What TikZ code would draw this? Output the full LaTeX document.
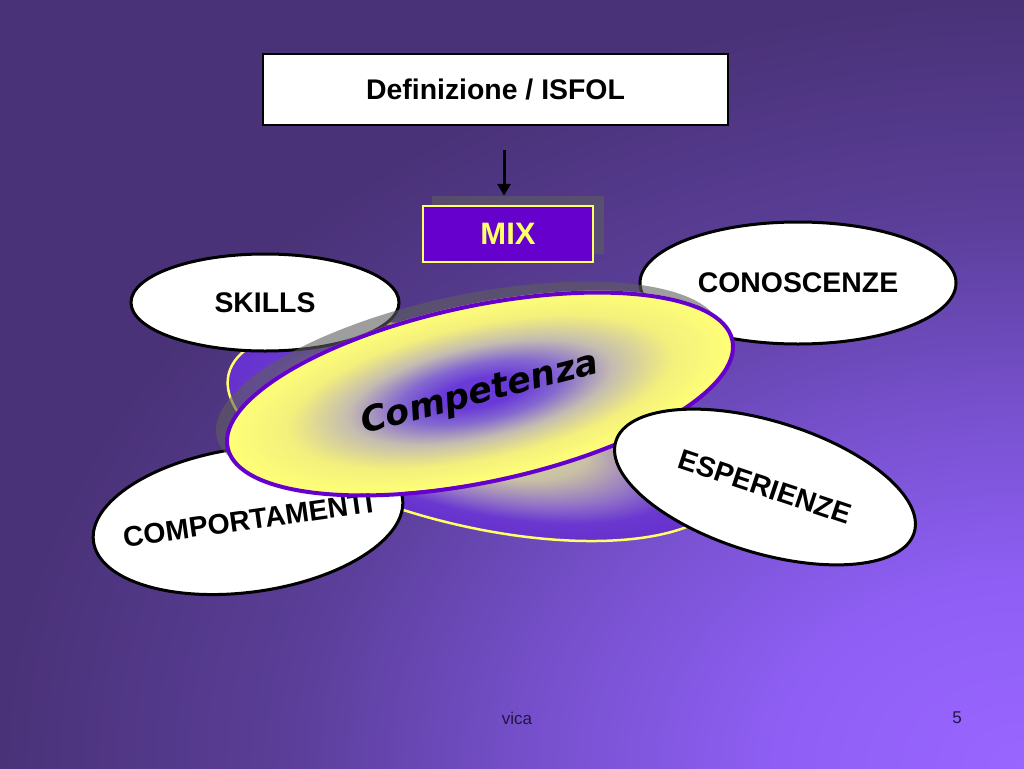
\documentclass[tikz,border=0pt]{standalone}
\usepackage{fontspec}
\usepackage{graphicx}
\setmainfont{Liberation Sans}
\newfontfamily\compfont{DejaVu Sans Bold Oblique}
\usetikzlibrary{shapes.geometric,arrows.meta,calc}

\definecolor{bgdark}{HTML}{4A3278}
\definecolor{bgmidA}{HTML}{5A3E98}
\definecolor{bgmidB}{HTML}{7650CC}
\definecolor{bgmidC}{HTML}{8F5FF5}
\definecolor{bglight}{HTML}{9966FF}
\definecolor{fpurple}{HTML}{6A3AD8}
\definecolor{fpurple2}{HTML}{8468D0}
\definecolor{fgray}{HTML}{C4BCB0}
\definecolor{fyellow}{HTML}{F4F07C}
\definecolor{fyellow2}{HTML}{FFFF77}
\definecolor{byellow}{HTML}{ECE89A}
\definecolor{bgray}{HTML}{C8C0A4}
\definecolor{bpurple1}{HTML}{9070C8}
\definecolor{bpurple2}{HTML}{6A38D0}
\definecolor{bpurple3}{HTML}{6630CC}
\definecolor{mixpurple}{HTML}{6600CC}
\definecolor{lineyellow}{HTML}{FFFF66}
\definecolor{shadowgray}{HTML}{5E5E5E}
\definecolor{footcol}{HTML}{1E1646}

\pgfdeclareradialshading{bgshade}{\pgfpoint{0bp}{0bp}}{color(0bp)=(bglight); color(6bp)=(bgmidC); color(12bp)=(bgmidB); color(18bp)=(bgmidA); color(25bp)=(bgdark); color(50bp)=(bgdark)}
\pgfdeclareradialshading{frontshade}{\pgfpoint{0bp}{0bp}}{color(0bp)=(fpurple); color(4bp)=(fpurple); color(8bp)=(fpurple2); color(13bp)=(fgray); color(19bp)=(fyellow); color(25bp)=(fyellow2); color(50bp)=(fyellow2)}
\pgfdeclareradialshading{backshade}{\pgfpoint{0bp}{0bp}}{color(0bp)=(byellow); color(11bp)=(bgray); color(17bp)=(bpurple1); color(21bp)=(bpurple2); color(25bp)=(bpurple3); color(50bp)=(bpurple3)}

\tikzset{
  boldtext/.style={font=\fontsize{28.4pt}{34pt}\selectfont\bfseries},
  oval/.style={ellipse, draw=black, line width=3pt, fill=white, inner sep=0pt, boldtext},
  titlebox/.style={rectangle, draw=black, line width=2.5pt, fill=white, inner sep=0pt, boldtext},
  mixbox/.style={rectangle, draw=lineyellow, line width=2.5pt, fill=mixpurple, inner sep=0pt,
    text=lineyellow, font=\fontsize{31pt}{36pt}\selectfont\bfseries},
  arrowline/.style={draw=black, line width=3pt, -{Triangle[width=13pt,length=12pt]}},
  shadowfill/.style={fill=shadowgray, opacity=0.6},
  frontoval/.style={ellipse, draw=mixpurple, line width=4pt, inner sep=0pt,
    font=\compfont\fontsize{35pt}{40pt}\selectfont},
  backoval/.style={ellipse, draw=lineyellow, line width=2.5pt, inner sep=0pt},
  foot/.style={font=\fontsize{17pt}{20pt}\selectfont, text=footcol, inner sep=0pt}
}

\begin{document}
\begin{tikzpicture}[x=1pt,y=-1pt]
\useasboundingbox (0,0) rectangle (1024,768);

% background
\begin{scope}
  \clip (0,0) rectangle (1024,768);
  \shade[shading=bgshade] (0,0) rectangle (2048,1536);
\end{scope}

% title and MIX
\node[titlebox, minimum width=465pt, minimum height=71pt] (title) at (495.5,89.5) {\raisebox{-1.5pt}{Definizione / ISFOL}};
\fill[shadowfill] (432,196) rectangle (604,254);
\node[mixbox, minimum width=170pt, minimum height=56pt] (mix) at (508,234) {\raisebox{-1.5pt}{MIX}};
\draw[arrowline] ($(title.south)+(8.5,24)$) -- ($(mix.north)+(-4,-9)$);

% back ellipse
\begin{scope}[transform canvas={shift={(478,432)}, rotate=-13, xscale=25.6, yscale=9.5}]
  \shade[shading=backshade] (0,0) circle[radius=10pt];
\end{scope}
\node[backoval, minimum width=512pt, minimum height=190pt, rotate=-13] (back) at (478,432) {};

% surrounding ovals (below the central ellipse)
\node[oval, minimum width=268pt, minimum height=97pt] (skills) at (265,302.5) {\makebox[0pt]{SKILLS}};
\node[oval, minimum width=316pt, minimum height=122pt] (conosc) at (798,283) {\makebox[0pt]{\raisebox{-1.5pt}{CONOSCENZE}}};
\node[oval, minimum width=312pt, minimum height=144pt, rotate=8] (comport) at (248,520) {\makebox[0pt]{COMPORTAMENTI}};

% shadow of the central ellipse
\fill[shadowfill, rotate around={12:(469,383)}] (469,383) ellipse [x radius=258pt, y radius=88pt];

% central ellipse
\begin{scope}[transform canvas={shift={(480,392)}, rotate=12, xscale=25.8, yscale=8.8}]
  \shade[shading=frontshade] (0,0) circle[radius=10pt];
\end{scope}
\node[frontoval, minimum width=516pt, minimum height=176pt, rotate=12] (comp) at (480,394) {\makebox[0pt]{\rotatebox[origin=c]{2.5}{Competenza}}};

% ESPERIENZE on top
\node[oval, minimum width=312pt, minimum height=132pt, rotate=-17] (esper) at (765,487) {\makebox[0pt]{\rotatebox[origin=c]{-1.5}{ESPERIENZE}}};

% footer
\node[foot] (vica) at (517,718) {vica};
\node[foot] (pagenum) at (957,718) {5};
\end{tikzpicture}
\end{document}
